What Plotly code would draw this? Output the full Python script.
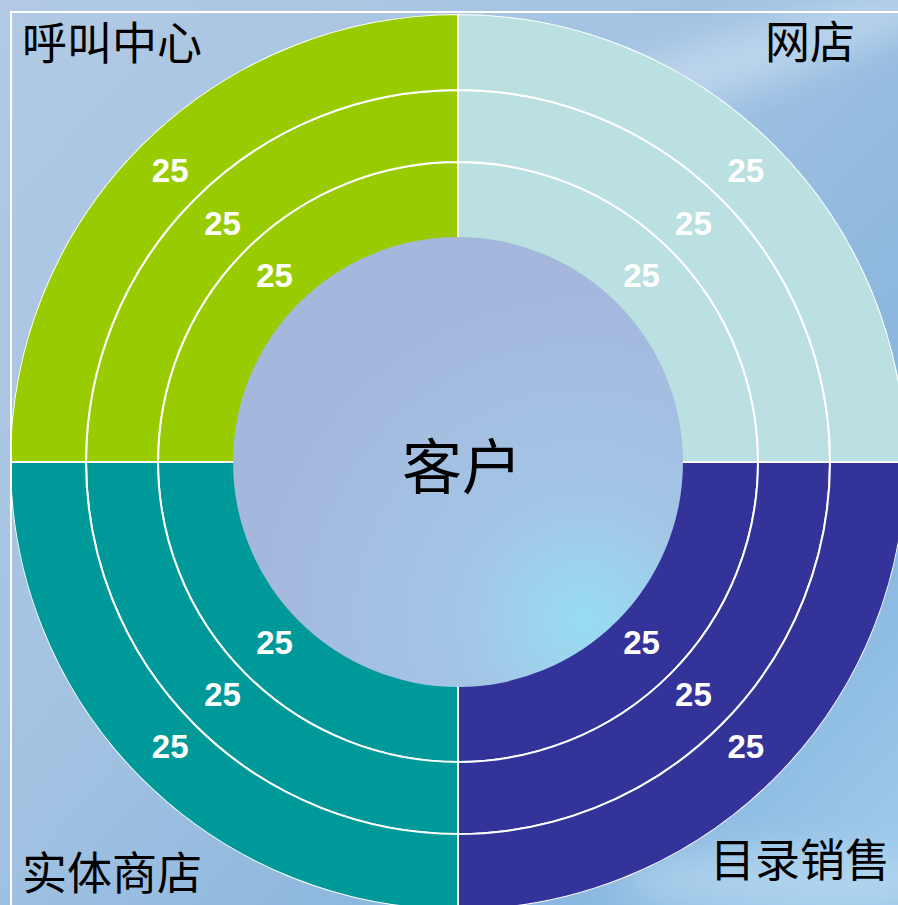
import base64
import numpy as np
import plotly.graph_objects as go

# ---------------- data ----------------
channels = ["网店", "目录销售", "实体商店", "呼叫中心"]          # clockwise from 12 o'clock
inner_ring = [25, 25, 25, 25]
middle_ring = [25, 25, 25, 25]
outer_ring = [25, 25, 25, 25]
center_label = "客户"

# ---------------- style / layout ----------------
ring_values = [inner_ring, middle_ring, outer_ring]
ring_edges = [222, 300, 372, 448]          # radial-axis units
colors = ["#BBE0E2", "#333399", "#009999", "#99CC00"]
W, H = 906, 910
CX, CY, R = 458, 462, 448                  # px centre / radius
HOLE = 225


def uri(s):
    return "data:image/svg+xml;base64," + base64.b64encode(s.encode()).decode()


# sky-like background as an SVG layout image
bg_svg = f'''<svg xmlns="http://www.w3.org/2000/svg" width="{W}" height="{H}">
<defs>
<linearGradient id="bg" x1="0" y1="0" x2="1" y2="0.9">
<stop offset="0" stop-color="#B2CAE4"/>
<stop offset="0.45" stop-color="#A2C2E2"/>
<stop offset="0.8" stop-color="#86B4DD"/>
<stop offset="1" stop-color="#9CC8EA"/>
</linearGradient>
<filter id="blur" x="-50%" y="-50%" width="200%" height="200%"><feGaussianBlur stdDeviation="18"/></filter>
</defs>
<rect width="{W}" height="{H}" fill="url(#bg)"/>
<ellipse cx="740" cy="60" rx="260" ry="28" transform="rotate(-18 740 60)" fill="#D4E6F5" opacity="0.55" filter="url(#blur)"/>
<ellipse cx="790" cy="880" rx="170" ry="30" fill="#C6E2F3" opacity="0.5" filter="url(#blur)"/>
</svg>'''

hole_svg = f'''<svg xmlns="http://www.w3.org/2000/svg" width="{2*HOLE}" height="{2*HOLE}">
<defs>
<radialGradient id="hole" cx="0.78" cy="0.85" r="0.75">
<stop offset="0" stop-color="#98DDF2"/>
<stop offset="0.35" stop-color="#A3C6E6"/>
<stop offset="1" stop-color="#A4B7DD"/>
</radialGradient>
</defs>
<circle cx="{HOLE}" cy="{HOLE}" r="{HOLE}" fill="url(#hole)"/>
</svg>'''

fig = go.Figure()

for i, vals in enumerate(ring_values):
    v = np.array(vals, dtype=float)
    deg = v / v.sum() * 360.0
    starts = np.cumsum(deg) - deg
    centers = starts + deg / 2
    inner, outer = ring_edges[i], ring_edges[i + 1]
    fig.add_trace(go.Barpolar(
        r=[outer - inner] * len(v), base=[inner] * len(v),
        theta=centers, width=deg,
        marker=dict(color=colors, line=dict(color="white", width=2)),
        hoverinfo="skip", showlegend=False,
    ))
    mid = (max(inner, HOLE) + outer) / 2
    fig.add_trace(go.Scatterpolar(
        r=[mid - 3] * len(v), theta=centers,
        mode="text", text=[f"{x:g}" for x in vals],
        textfont=dict(family="Liberation Sans, Arial", size=33, color="white", weight="bold"),
        hoverinfo="skip", showlegend=False,
    ))

fig.update_layout(
    width=W, height=H,
    margin=dict(l=0, r=0, t=0, b=0),
    paper_bgcolor="#A6C3E2", plot_bgcolor="rgba(0,0,0,0)",
    polar=dict(
        domain=dict(x=[(CX - R) / W, (CX + R) / W], y=[1 - (CY + R) / H, 1 - (CY - R) / H]),
        bgcolor="rgba(0,0,0,0)",
        radialaxis=dict(range=[0, ring_edges[-1]], visible=False),
        angularaxis=dict(direction="clockwise", rotation=90, visible=False),
        barmode="overlay",
    ),
    images=[
        dict(source=uri(bg_svg), xref="paper", yref="paper", x=0, y=1,
             sizex=1, sizey=1, sizing="stretch", layer="below"),
        dict(source=uri(hole_svg), xref="paper", yref="paper",
             x=(CX - HOLE) / W, y=1 - (CY - HOLE) / H,
             sizex=2 * HOLE / W, sizey=2 * HOLE / H, sizing="stretch", layer="above"),
    ],
    shapes=[
        dict(type="line", xref="paper", yref="paper", x0=10 / W, x1=1, y0=1 - 12 / H, y1=1 - 12 / H,
             line=dict(color="white", width=2)),
        dict(type="line", xref="paper", yref="paper", x0=11 / W, x1=11 / W, y0=0, y1=1 - 12 / H,
             line=dict(color="white", width=2)),
    ],
)

cjk = "Noto Sans CJK SC"
corner = [
    (channels[3], 20, 41, "left"),
    (channels[0], 857, 40, "right"),
    (channels[2], 20, 870, "left"),
    (channels[1], 892, 857, "right"),
]
for txt, x, y, anchor in corner:
    fig.add_annotation(text=txt, x=x / W, y=1 - y / H, xref="paper", yref="paper",
                       xanchor=anchor, yanchor="middle", showarrow=False,
                       font=dict(family=cjk, size=45, color="black"))
fig.add_annotation(text=center_label, x=(CX + 4) / W, y=1 - CY / H, xref="paper", yref="paper",
                   xanchor="center", yanchor="middle", showarrow=False,
                   font=dict(family=cjk, size=60, color="black"))

fig.write_html("out.html", config={"displayModeBar": False},
               post_script="document.body.style.margin='0';document.body.style.overflow='hidden';")
